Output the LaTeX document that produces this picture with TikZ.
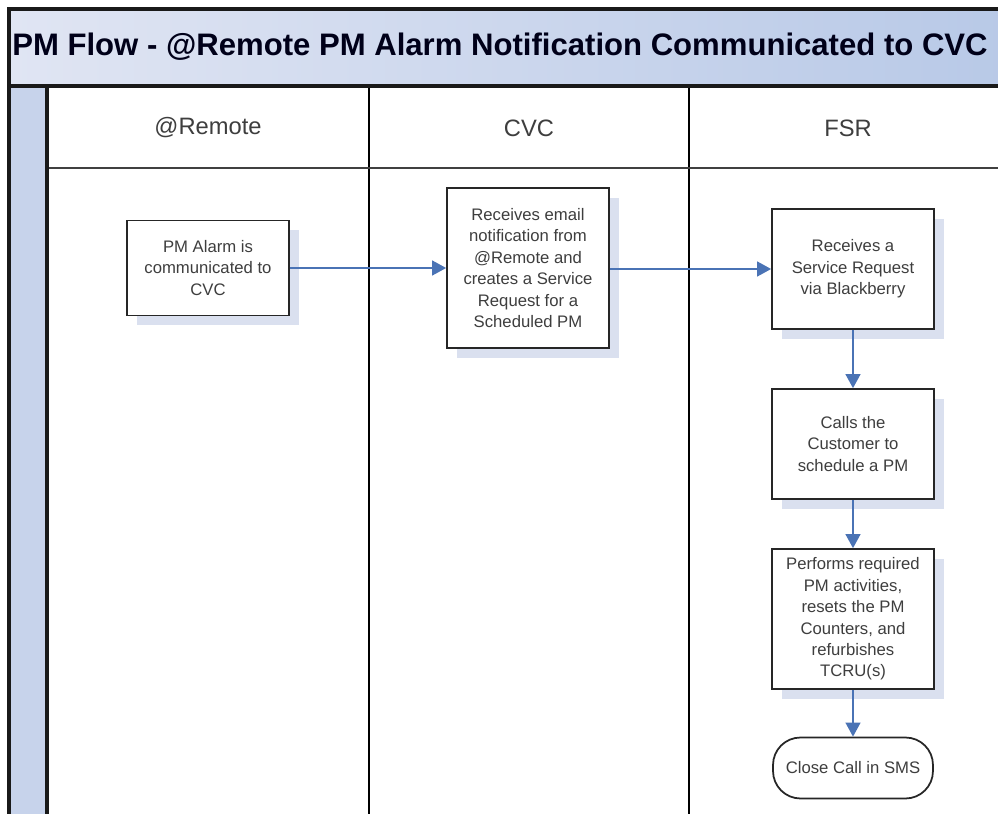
\documentclass[tikz,border=0pt]{standalone}
\usepackage{fontspec}
\setmainfont{Liberation Sans}
\usetikzlibrary{shadows,arrows.meta}
\definecolor{flowblue}{RGB}{74,115,181}
\definecolor{bandleft}{RGB}{224,229,243}
\definecolor{bandright}{RGB}{184,201,231}
\definecolor{stripblue}{RGB}{199,211,235}
\definecolor{shadowblue}{RGB}{218,224,239}
\definecolor{txtgray}{RGB}{62,62,62}
\tikzset{
	stepbox/.style={draw=black!85, line width=1pt, fill=white, align=center, inner sep=0pt,
		minimum width=3.24cm, text=txtgray, font=\fontsize{9.5}{12.2}\selectfont,
		drop shadow={shadow xshift=5.5pt, shadow yshift=-5.5pt, fill=shadowblue, opacity=1}},
	endbox/.style={draw=black!85, line width=1pt, fill=white, rounded corners=.55cm, inner sep=0pt,
		minimum width=3.2cm, minimum height=1.22cm, text=txtgray, font=\fontsize{9.5}{12.2}\selectfont},
	lanehead/.style={text=txtgray, font=\fontsize{13.5}{16}\selectfont},
	flow/.style={draw=flowblue, line width=.9pt, -{Triangle[length=8pt,width=8.5pt]}}
}
\begin{document}
\begin{tikzpicture}[x=0.02cm,y=-0.02cm]
		\clip (0,0) rectangle (998,814);
		\fill[white] (0,0) rectangle (998,814);
		
		% pool frame and title band
		\shade[left color=bandleft, right color=bandright] (9,9) rectangle (1010,86);
		\fill[stripblue] (9,86) rectangle (47,830);
		\draw[line width=1.1pt] (369,86) -- (369,830);
		\draw[line width=1.1pt] (689,86) -- (689,830);
		\draw[line width=.9pt, black!75] (47,168) -- (1010,168);
		\draw[line width=2pt, black!90] (1010,9) -- (9,9) -- (9,830);
		\draw[line width=2pt, black!90] (9,86) -- (1010,86);
		\draw[line width=2pt, black!90] (47,86) -- (47,830);
		\node (title) at (500,47) {\fontsize{17.7}{20}\bfseries\color{black!90!blue}PM Flow - @Remote PM Alarm Notification Communicated to CVC};
		
		% lanes
		\node[lanehead] (remote) at (208,128) {@Remote};
		\node[lanehead] (cvc) at (529,128) {CVC};
		\node[lanehead] (fsr) at (848,128) {FSR};
		
		% steps
		\node[stepbox, minimum height=1.9cm] (alarm) at (208,268) {PM Alarm is\\communicated to\\CVC};
		\node[stepbox, minimum height=3.2cm] (email) at (528,268) {Receives email\\notification from\\@Remote and\\creates a Service\\Request for a\\Scheduled PM};
		\node[stepbox, minimum height=2.4cm] (request) at (853,269) {Receives a\\Service Request\\via Blackberry};
		\node[stepbox, minimum height=2.2cm] (calls) at (853,444) {Calls the\\Customer to\\schedule a PM};
		\node[stepbox, minimum height=2.8cm] (performs) at (853,619) {Performs required\\PM activities,\\resets the PM\\Counters, and\\refurbishes\\TCRU(s)};
		\node[endbox] (close) at (853,768) {Close Call in SMS};
		
		\draw[flow] (alarm) -- (email);
		\draw[flow] (email.east |- request.west) -- (request.west);
		\draw[flow] (request) -- (calls);
		\draw[flow] (calls) -- (performs);
		\draw[flow] (performs) -- (close);
\end{tikzpicture}
\end{document}
